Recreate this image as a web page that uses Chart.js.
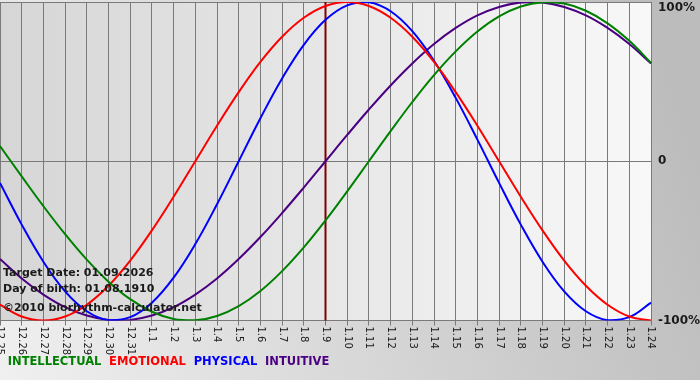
<!DOCTYPE html>
<html>
<head>
<meta charset="utf-8">
<script src="https://cdn.jsdelivr.net/npm/chart.js@4.4.1/dist/chart.umd.min.js"></script>
<style>
    html, body { margin: 0; padding: 0; background: #d0d0d0; }
    #wrap { width: 700px; height: 380px; }
</style>
</head>
<body>
<div id="wrap"><canvas id="bioChart" width="700" height="380"></canvas></div>
<script>
// Day labels (month.day) along the bottom
const days = ['12.25', '12.26', '12.27', '12.28', '12.29', '12.30', '12.31',
    '1.1', '1.2', '1.3', '1.4', '1.5', '1.6', '1.7', '1.8', '1.9', '1.10', '1.11', '1.12',
    '1.13', '1.14', '1.15', '1.16', '1.17', '1.18', '1.19', '1.20', '1.21', '1.22', '1.23', '1.24'];

// Cycle values in percent, one per day
const intellectual = [9.5, -9.5, -28.2, -45.8, -61.8, -75.6, -86.6, -94.5, -99.0, -99.9, -97.2,
    -91.0, -81.5, -69.0, -54.1, -37.2, -18.9, 0, 18.9, 37.2, 54.1,
    69.0, 81.5, 91.0, 97.2, 99.9, 99.0, 94.5, 86.6, 75.6, 61.8];
const emotional = [-90.1, -97.5, -100, -97.5, -90.1, -78.2, -62.4, -43.4, -22.3, 0, 22.3,
    43.4, 62.4, 78.2, 90.1, 97.5, 100, 97.5, 90.1, 78.2, 62.4,
    43.4, 22.3, 0, -22.3, -43.4, -62.4, -78.2, -90.1, -97.5, -100];
const physical = [-13.6, -39.8, -63.1, -81.7, -94.2, -99.8, -97.9, -88.8, -73.1, -52.0, -27.0,
    0, 27.0, 52.0, 73.1, 88.8, 97.9, 99.8, 94.2, 81.7, 63.1,
    39.8, 13.6, -13.6, -39.8, -63.1, -81.7, -94.2, -99.8, -97.9, -88.8];
const intuitive = [-61.4, -73.6, -83.7, -91.6, -96.9, -99.7, -99.7, -96.9, -91.6, -83.7, -73.6,
    -61.4, -47.6, -32.5, -16.5, 0, 16.5, 32.5, 47.6, 61.4, 73.6,
    83.7, 91.6, 96.9, 99.7, 99.7, 96.9, 91.6, 83.7, 73.6, 61.4];

const yTicks = [-100, 0, 100];
const targetDay = '1.9';
const infoLines = ['Target Date: 01.09.2026', 'Day of birth: 01.08.1910', '\u00a92010 biorhythm-calculator.net'];

const FONT = '"DejaVu Sans", Verdana, sans-serif';

// Backgrounds, target marker, rotated day labels, percent labels and info text
const decorPlugin = {
    id: 'bioDecor',
    beforeDraw(chart) {
        const { ctx, chartArea: a, width, height } = chart;
        ctx.save();
        const outer = ctx.createLinearGradient(0, height, width, 150);
        outer.addColorStop(0, '#f0f0f0');
        outer.addColorStop(1, '#bcbcbc');
        ctx.fillStyle = outer;
        ctx.fillRect(0, 0, width, height);
        const inner = ctx.createLinearGradient(a.left, 0, a.right, 0);
        inner.addColorStop(0, '#d6d6d6');
        inner.addColorStop(1, '#f8f8f8');
        ctx.fillStyle = inner;
        ctx.fillRect(a.left, a.top, a.right - a.left, a.bottom - a.top);
        ctx.restore();
    },
    beforeDatasetsDraw(chart) {
        const { ctx, chartArea: a, scales } = chart;
        const x = scales.x.getPixelForValue(days.indexOf(targetDay));
        ctx.save();
        ctx.strokeStyle = '#800000';
        ctx.lineWidth = 2;
        ctx.beginPath();
        ctx.moveTo(x, a.top);
        ctx.lineTo(x, a.bottom);
        ctx.stroke();
        ctx.restore();
    },
    afterDraw(chart) {
        const { ctx, chartArea: a, scales } = chart;
        ctx.save();
        // day labels, turned clockwise
        ctx.fillStyle = '#1a1a1a';
        ctx.font = '10px ' + FONT;
        ctx.textAlign = 'left';
        ctx.textBaseline = 'middle';
        days.forEach((d, i) => {
            const x = scales.x.getPixelForTick(i);
            ctx.save();
            ctx.translate(x, a.bottom + 6);
            ctx.rotate(Math.PI / 2);
            ctx.fillText(d, 0, 0);
            ctx.restore();
        });
        // percent labels on the right
        ctx.font = 'bold 12px ' + FONT;
        yTicks.forEach(v => {
            let y = scales.y.getPixelForValue(v);
            y = Math.min(Math.max(y, a.top + 6), a.bottom);
            ctx.fillText(v === 0 ? '0' : v + '%', a.right + 7, y);
        });
        // info block
        ctx.font = 'bold 11px ' + FONT;
        ctx.fillStyle = '#1a1a1a';
        ctx.textBaseline = 'alphabetic';
        ctx.fillText(infoLines[0], 3, 276);
        ctx.fillText(infoLines[1], 3, 292);
        ctx.fillText(infoLines[2], 3, 311);
        ctx.restore();
    }
};

const seriesColors = {
    INTELLECTUAL: '#008000',
    EMOTIONAL: '#ff0000',
    PHYSICAL: '#0000ff',
    INTUITIVE: '#4b0082'
};

function makeSet(label, data) {
    return {
        label: label,
        data: data,
        borderColor: seriesColors[label],
        borderWidth: 2,
        pointRadius: 0,
        tension: 0.4,
        fill: false
    };
}

new Chart(document.getElementById('bioChart'), {
    type: 'line',
    data: {
        labels: days,
        datasets: [
            makeSet('INTELLECTUAL', intellectual),
            makeSet('EMOTIONAL', emotional),
            makeSet('PHYSICAL', physical),
            makeSet('INTUITIVE', intuitive)
        ]
    },
    options: {
        responsive: false,
        animation: false,
        layout: { padding: { top: 2, left: 0, right: 0, bottom: 2 } },
        scales: {
            x: {
                grid: { color: '#7a7a7a', lineWidth: 1, drawTicks: true, tickLength: 5 },
                border: { display: false },
                ticks: { display: false },
                afterFit: s => { s.height = 34; }
            },
            y: {
                position: 'right',
                min: -100,
                max: 100,
                ticks: { display: false, stepSize: 100 },
                grid: { color: '#7a7a7a', drawTicks: false },
                border: { display: false },
                afterFit: s => { s.width = 49; }
            }
        },
        plugins: {
            tooltip: { enabled: false },
            legend: {
                position: 'bottom',
                align: 'start',
                labels: {
                    boxWidth: 0,
                    padding: 2,
                    font: { family: FONT, size: 11.5, weight: 'bold' },
                    generateLabels: chart => chart.data.datasets.map((ds, i) => ({
                        text: ds.label,
                        fontColor: ds.borderColor,
                        fillStyle: 'rgba(0,0,0,0)',
                        strokeStyle: 'rgba(0,0,0,0)',
                        lineWidth: 0,
                        hidden: false,
                        datasetIndex: i
                    }))
                }
            }
        }
    },
    plugins: [decorPlugin]
});
</script>
</body>
</html>
